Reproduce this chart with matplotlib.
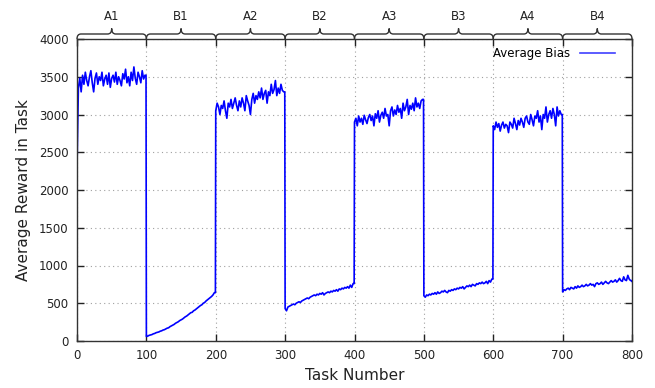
import numpy as np
import matplotlib
matplotlib.use("Agg")
import matplotlib.pyplot as plt
from matplotlib.path import Path
from matplotlib.patches import PathPatch
import matplotlib.transforms as mtransforms

seg_labels = ["A1", "B1", "A2", "B2", "A3", "B3", "A4", "B4"]
seg_starts = [0, 100, 200, 300, 400, 500, 600, 700]
seg_len = 100
step = 2

a1 = [2300, 3350, 3480, 3300, 3520, 3400, 3560, 3450, 3380, 3500, 3580, 3420, 3300, 3480, 3550, 3400, 3500,
      3450, 3560, 3380, 3470, 3520, 3400, 3550, 3360, 3480, 3520, 3430, 3560, 3400, 3500, 3450, 3380, 3540,
      3470, 3600, 3420, 3500, 3380, 3560, 3450, 3630, 3480, 3400, 3560, 3500, 3420, 3580, 3470, 3520]
b1 = [60, 65, 75, 80, 85, 95, 100, 110, 115, 120, 130, 135, 145, 150, 160, 170, 175, 190, 200, 210, 220, 235,
      245, 255, 270, 280, 290, 305, 320, 330, 345, 360, 375, 380, 400, 410, 425, 440, 455, 470, 480, 500, 510,
      530, 545, 560, 575, 590, 610, 640]
a2 = [3050, 3150, 3100, 3000, 3120, 3080, 3180, 3050, 2950, 3150, 3100, 3200, 3080, 3150, 3220, 3120, 3050,
      3180, 3100, 3220, 3150, 3050, 3250, 3180, 3120, 3000, 3200, 3280, 3150, 3250, 3200, 3300, 3220, 3350,
      3200, 3280, 3320, 3150, 3300, 3250, 3400, 3280, 3330, 3450, 3250, 3350, 3280, 3400, 3320, 3300]
b2 = [430, 400, 450, 460, 470, 480, 490, 480, 500, 510, 520, 510, 530, 540, 550, 560, 570, 560, 580, 590, 600,
      610, 600, 620, 610, 630, 620, 640, 610, 630, 640, 650, 640, 660, 650, 670, 660, 680, 660, 690, 680, 700,
      690, 710, 700, 720, 700, 740, 710, 760]
a3 = [2900, 2950, 2850, 2980, 2900, 2950, 2870, 2990, 2930, 2880, 2960, 3000, 2920, 2980, 2850, 3010, 2950,
      3050, 2900, 2990, 3030, 2950, 3080, 2980, 3000, 2850, 3050, 3100, 2980, 3060, 3000, 3120, 3030, 3080,
      2950, 3150, 3050, 3100, 3200, 3000, 3120, 3070, 3150, 3050, 3220, 3100, 3150, 3080, 3180, 3200]
b3 = [600, 580, 610, 600, 620, 610, 630, 620, 640, 620, 650, 630, 640, 660, 650, 670, 650, 640, 670, 660, 680,
      670, 690, 680, 700, 690, 710, 700, 720, 690, 710, 730, 720, 740, 720, 750, 740, 730, 760, 750, 770, 760,
      780, 760, 770, 790, 760, 800, 780, 820]
a4 = [2850, 2800, 2900, 2830, 2880, 2780, 2860, 2900, 2820, 2870, 2850, 2760, 2900, 2870, 2820, 2950, 2880,
      2800, 2920, 2860, 2950, 2900, 2830, 2950, 2980, 2900, 2870, 3000, 2930, 2850, 2980, 2950, 3050, 2900,
      2980, 2800, 3000, 2950, 3100, 2900, 3000, 3050, 2950, 3080, 3000, 2850, 3100, 2980, 3050, 3000]
b4 = [650, 680, 670, 690, 700, 680, 710, 700, 690, 720, 700, 730, 710, 720, 740, 720, 730, 750, 730, 740, 760,
      740, 750, 720, 760, 770, 750, 760, 780, 750, 770, 790, 770, 760, 780, 800, 780, 790, 810, 780, 800, 830,
      800, 790, 850, 810, 800, 870, 820, 800]
last_value = 790

segments = [a1, b1, a2, b2, a3, b3, a4, b4]
series_label = "Average Bias"
x_label = "Task Number"
y_label = "Average Reward in Task"

# ---- build series ----
xs, ys = [], []
for start, vals in zip(seg_starts, segments):
    for i, v in enumerate(vals):
        xs.append(start + i * step)
        ys.append(v)
    xs.append(start + seg_len - 0.5)
    ys.append(vals[-1])
xs.append(800)
ys.append(last_value)

# ---- figure ----
fig = plt.figure(figsize=(6.55, 3.88), dpi=100)
ax = fig.add_axes([77 / 655, 47 / 388, 555 / 655, 302 / 388])

ax.plot(xs, ys, color="#0000ff", lw=1.2, label=series_label)

ax.set_xlim(0, 800)
ax.set_ylim(0, 4000)
ax.set_xticks(np.arange(0, 801, 100))
ax.set_yticks(np.arange(0, 4001, 500))
ax.grid(True, color="#a0a0a0", linestyle=(0, (1, 3)), lw=0.8)
ax.tick_params(direction="in", top=True, right=True, length=5, width=1,
               labelsize=8.5, colors="#222222", pad=6)
for s in ax.spines.values():
    s.set_color("#333333")
    s.set_linewidth(1.0)

ax.set_xlabel(x_label, fontsize=11, color="#222222", labelpad=4)
ax.set_ylabel(y_label, fontsize=11, color="#222222", labelpad=6)

leg = ax.legend(loc="upper right", frameon=False, fontsize=8.5, handlelength=3.0,
                markerfirst=False, bbox_to_anchor=(0.985, 1.0), borderaxespad=0.3)
for h in leg.get_lines():
    h.set_color("#4040ff")

# ---- braces above the plot ----
trans = mtransforms.blended_transform_factory(ax.transData, ax.transAxes)
px = 1 / 302.0
dx = 800 / 555.0
for start, lab in zip(seg_starts, seg_labels):
    a, b = start, start + seg_len
    m = (a + b) / 2
    y0 = 1.0
    h = 1.0 + 5 * px
    c = 1.0 + 10.5 * px
    r = 4 * dx
    verts = [(a, y0), (a, h), (a + r, h),
             (m - r, h), (m, h), (m, c),
             (m, h), (m + r, h),
             (b - r, h), (b, h), (b, y0)]
    codes = [Path.MOVETO, Path.CURVE3, Path.CURVE3,
             Path.LINETO, Path.CURVE3, Path.CURVE3,
             Path.CURVE3, Path.CURVE3,
             Path.LINETO, Path.CURVE3, Path.CURVE3]
    p = PathPatch(Path(verts, codes), transform=trans, fill=False, lw=1.0,
                  edgecolor="#333333", clip_on=False)
    ax.add_patch(p)
    ax.text(m, 1 + 22 * px, lab, transform=trans, ha="center", va="center",
            fontsize=8.5, color="#222222")

fig.savefig("out.png", dpi=100)
